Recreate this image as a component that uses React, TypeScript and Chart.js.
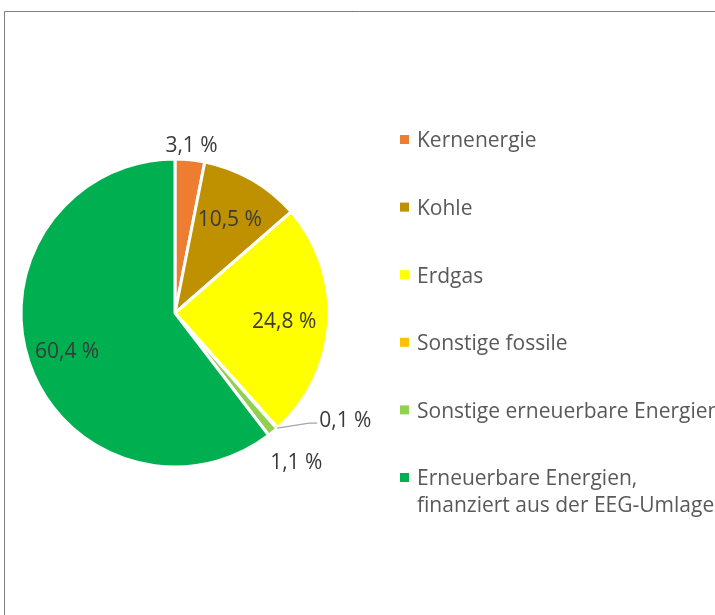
import React, { useEffect, useRef } from "react";
import { Chart, registerables } from "chart.js";

Chart.register(...registerables);

const categories = [
  "Kernenergie",
  "Kohle",
  "Erdgas",
  "Sonstige fossile",
  "Sonstige erneuerbare Energien",
  "Erneuerbare Energien, finanziert aus der EEG-Umlage",
];
const legendLines = [
  ["Kernenergie"],
  ["Kohle"],
  ["Erdgas"],
  ["Sonstige fossile"],
  ["Sonstige erneuerbare Energien"],
  ["Erneuerbare Energien,", "finanziert aus der EEG-Umlage"],
];
const shares = [3.1, 10.5, 24.8, 0.1, 1.1, 60.4];
const colors = ["#ED7D31", "#BF9000", "#FFFF00", "#FFC000", "#92D050", "#00B050"];
// label placement: kind and radial factor
const labelModes = ["outside", "inside", "inside", "leader", "outside", "inside"];
const labelFactors = [1.105, 0.71, 0.71, 1.0, 1.24, 0.74];

const FONT = '"Open Sans", sans-serif';
const TEXT_DY = 2;

const fmt = (v: number) => v.toFixed(1).replace(".", ",") + " %";

const decorPlugin = {
  id: "decor",
  beforeDraw(chart: any) {
    const ctx = chart.ctx;
    ctx.save();
    ctx.strokeStyle = "#7f7f7f";
    ctx.lineWidth = 1;
    ctx.beginPath();
    ctx.moveTo(4.5, chart.height);
    ctx.lineTo(4.5, 11.5);
    ctx.lineTo(chart.width, 11.5);
    ctx.stroke();
    ctx.restore();
  },
  afterDraw(chart: any) {
    const ctx = chart.ctx;
    const meta = chart.getDatasetMeta(0);
    const data = chart.data.datasets[0].data as number[];
    ctx.save();
    ctx.font = `21px ${FONT}`;
    ctx.fillStyle = "#3a3a3a";
    ctx.textBaseline = "middle";
    meta.data.forEach((arc: any, i: number) => {
      const p = arc.getProps(["x", "y", "startAngle", "endAngle", "outerRadius"], true);
      const mid = (p.startAngle + p.endAngle) / 2;
      const txt = fmt(data[i]);
      const mode = labelModes[i];
      ctx.fillStyle = "#3a3a3a";
      if (mode === "leader") {
        const ex = p.x + Math.cos(mid) * p.outerRadius;
        const ey = p.y + Math.sin(mid) * p.outerRadius;
        const bx = ex + 32;
        const by = ey - 5;
        ctx.strokeStyle = "#a6a6a6";
        ctx.lineWidth = 1.2;
        ctx.beginPath();
        ctx.moveTo(ex, ey);
        ctx.lineTo(bx, by);
        ctx.lineTo(bx + 8, by);
        ctx.stroke();
        ctx.textAlign = "left";
        ctx.fillText(txt, bx + 10, by - 4 + TEXT_DY);
      } else {
        const r = p.outerRadius * labelFactors[i];
        ctx.textAlign = "center";
        ctx.fillText(txt, p.x + Math.cos(mid) * r, p.y + Math.sin(mid) * r + TEXT_DY);
      }
    });

    // legend
    const lx = 400;
    const top = 139.5;
    const step = 67.6;
    const box = 9;
    const lineH = 27;
    ctx.textAlign = "left";
    legendLines.forEach((lines, i) => {
      const y = top + i * step;
      ctx.fillStyle = colors[i];
      ctx.fillRect(lx, y - box / 2, box, box);
      ctx.fillStyle = "#595959";
      lines.forEach((ln, k) => {
        ctx.fillText(ln, lx + 17, y + k * lineH + TEXT_DY);
      });
    });
    ctx.restore();
  },
};

export default function App() {
  const ref = useRef<HTMLCanvasElement | null>(null);
  useEffect(() => {
    document.body.style.margin = "0";
    const canvas = ref.current;
    if (!canvas) return;
    const chart = new Chart(canvas, {
      type: "pie",
      data: {
        labels: categories,
        datasets: [
          {
            data: shares,
            backgroundColor: colors,
            borderColor: "#ffffff",
            borderWidth: 3,
          },
        ],
      },
      options: {
        animation: false,
        responsive: false,
        devicePixelRatio: 1,
        radius: 154,
        layout: { padding: { left: 20, right: 385, top: 160, bottom: 149 } },
        plugins: {
          legend: { display: false },
          tooltip: { enabled: false },
          title: { display: false },
        },
      } as any,
      plugins: [decorPlugin],
    });
    return () => chart.destroy();
  }, []);
  return (
    <div style={{ width: 715, height: 615, background: "#fff" }}>
      <canvas ref={ref} width={715} height={615} style={{ display: "block" }} />
    </div>
  );
}
